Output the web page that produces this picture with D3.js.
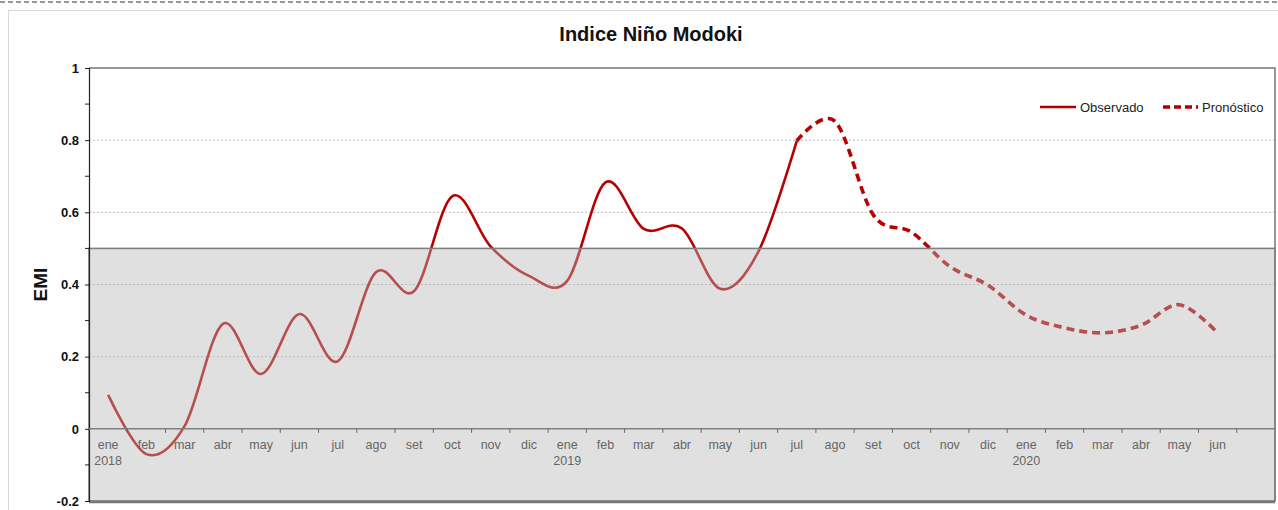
<!DOCTYPE html>
<html>
<head>
<meta charset="utf-8">
<script src="https://cdn.jsdelivr.net/npm/d3@7"></script>
<style>
  body { margin: 0; background: #fff; }
  svg { display: block; font-family: Arial, "Liberation Sans", sans-serif; }
</style>
</head>
<body>
<svg id="chart" width="1278" height="510"></svg>
<script>
// month labels (last slot is empty in the original)
const months = ["ene","feb","mar","abr","may","jun","jul","ago","set","oct","nov","dic",
  "ene","feb","mar","abr","may","jun","jul","ago","set","oct","nov","dic",
  "ene","feb","mar","abr","may","jun",""];
const years = {0: "2018", 12: "2019", 24: "2020"};

// observed EMI, ene 2018 .. jul 2019
const observado = [0.094, -0.07, 0.008, 0.291, 0.152, 0.318, 0.187, 0.434, 0.382, 0.645, 0.505,
  0.424, 0.41, 0.683, 0.554, 0.555, 0.388, 0.492, 0.798];
// forecast EMI, jul 2019 .. jun 2020
const pronostico = [0.798, 0.852, 0.593, 0.545, 0.45, 0.398, 0.315, 0.28, 0.266, 0.287, 0.344, 0.266];
const pronosticoStart = 18;

const yTicks = [-0.2, 0, 0.2, 0.4, 0.6, 0.8, 1];
const yMinor = [-0.1, 0.1, 0.3, 0.5, 0.7, 0.9];
const umbral = 0.5;

const svg = d3.select("#chart");
const pLeft = 89, pRight = 1275, pTop = 68, pBottom = 501;

let x = d3.scaleBand().domain(d3.range(months.length)).range([pLeft, pRight]).padding(0);
let y = d3.scaleLinear().domain([-0.2, 1]).range([pBottom, pTop]);
let cx = i => x(i) + x.bandwidth() / 2;

// top dashed border + outer frame
svg.append("line").attr("x1", 0).attr("x2", 1278).attr("y1", 2).attr("y2", 2)
  .attr("stroke", "#333").attr("stroke-width", 1.2).attr("stroke-dasharray", "5,3");
svg.append("rect").attr("x", 8.5).attr("y", 10.5).attr("width", 1280).attr("height", 520)
  .attr("fill", "none").attr("stroke", "#d9d9d9");

// title
svg.append("text").attr("x", 651).attr("y", 41).attr("text-anchor", "middle")
  .attr("font-size", 20).attr("font-weight", "bold").attr("fill", "#111")
  .text("Indice Niño Modoki");

// gridlines
svg.append("g").selectAll("line").data(yTicks.filter(d => d != 0 && d != 1 && d != -0.2)).join("line")
  .attr("x1", pLeft).attr("x2", pRight).attr("y1", d => y(d)).attr("y2", d => y(d))
  .attr("stroke", "#aaa").attr("stroke-width", 0.8).attr("stroke-dasharray", "2,2");

// plot border top/right
svg.append("path").attr("d", `M${pLeft},${pTop}H${pRight}V${pBottom}`)
  .attr("fill", "none").attr("stroke", "#777").attr("stroke-width", 1.5);

// lines
let line = d3.line().x(d => cx(d.i)).y(d => y(d.v)).curve(d3.curveCatmullRom.alpha(0));
let obsData = observado.map((v, i) => ({i: i, v: v}));
let proData = pronostico.map((v, i) => ({i: i + pronosticoStart, v: v}));

svg.append("path").datum(obsData).attr("d", line)
  .attr("fill", "none").attr("stroke", "#b80000").attr("stroke-width", 2.6);
svg.append("path").datum(proData).attr("d", line)
  .attr("fill", "none").attr("stroke", "#b80000").attr("stroke-width", 3.6)
  .attr("stroke-dasharray", "8,5");

// neutral band overlay (semi transparent)
svg.append("rect").attr("x", pLeft).attr("y", y(umbral)).attr("width", pRight - pLeft)
  .attr("height", pBottom - y(umbral))
  .attr("fill", "#b8b8b8").attr("fill-opacity", 0.43)
  .attr("stroke", "#808080").attr("stroke-width", 1.6);
svg.append("line").attr("x1", pLeft).attr("x2", pRight).attr("y1", pBottom + 1).attr("y2", pBottom + 1)
  .attr("stroke", "#777").attr("stroke-width", 2.5);

// y axis
let yAxis = d3.axisLeft(y).tickValues(yTicks).tickSize(4).tickPadding(6)
  .tickFormat(d => String(+d.toFixed(1)));
let gy = svg.append("g").attr("transform", `translate(${pLeft},0)`).call(yAxis);
gy.select(".domain").attr("stroke", "#222").attr("stroke-width", 1.2);
gy.selectAll(".tick line").attr("stroke", "#222");
gy.selectAll("text").attr("font-size", 13).attr("font-weight", "bold").attr("fill", "#111")
  .attr("font-family", "Arial, 'Liberation Sans', sans-serif");
svg.append("g").selectAll("line").data(yMinor).join("line")
  .attr("x1", pLeft - 4).attr("x2", pLeft).attr("y1", d => y(d)).attr("y2", d => y(d))
  .attr("stroke", "#222");

svg.append("text").attr("transform", `translate(47,${y(0.4)}) rotate(-90)`)
  .attr("text-anchor", "middle").attr("font-size", 19).attr("font-weight", "bold")
  .attr("fill", "#111").text("EMI");

// x axis at zero
let gx = svg.append("g").attr("transform", `translate(0,${y(0)})`);
gx.append("line").attr("x1", pLeft).attr("x2", pRight).attr("stroke", "#808080").attr("stroke-width", 1.5);
gx.selectAll(".xt").data(d3.range(1, months.length)).join("line").attr("class", "xt")
  .attr("x1", d => x(d)).attr("x2", d => x(d)).attr("y1", 0).attr("y2", 4)
  .attr("stroke", "#666");
gx.selectAll(".ml").data(months).join("text").attr("class", "ml")
  .attr("x", (d, i) => cx(i)).attr("y", 20).attr("text-anchor", "middle")
  .attr("font-size", 12.5).attr("fill", "#666").text(d => d);
gx.selectAll(".yl").data(Object.keys(years)).join("text").attr("class", "yl")
  .attr("x", d => cx(+d)).attr("y", 36).attr("text-anchor", "middle")
  .attr("font-size", 12.5).attr("fill", "#666").text(d => years[d]);

// legend
let lg = svg.append("g").attr("transform", "translate(0,107)");
lg.append("line").attr("x1", 1040).attr("x2", 1076).attr("stroke", "#b00000").attr("stroke-width", 2.6);
lg.append("text").attr("x", 1080).attr("y", 4.5).attr("font-size", 13).attr("fill", "#222").text("Observado");
lg.append("line").attr("x1", 1163).attr("x2", 1198).attr("stroke", "#b00000").attr("stroke-width", 3.6)
  .attr("stroke-dasharray", "7,4");
lg.append("text").attr("x", 1202).attr("y", 4.5).attr("font-size", 13).attr("fill", "#222").text("Pronóstico");
</script>
</body>
</html>
